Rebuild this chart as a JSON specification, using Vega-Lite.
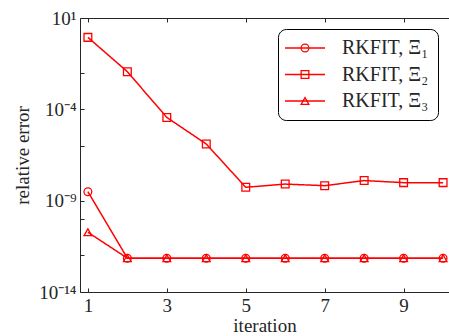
{
  "$schema": "https://vega.github.io/schema/vega-lite/v6.json",
  "autosize": "none",
  "padding": {"left": 80, "top": 18, "right": 0, "bottom": 44},
  "width": 369,
  "height": 274,
  "background": "white",
  "config": {
    "view": {"stroke": null},
    "font": "Liberation Serif",
    "axis": {
      "grid": false,
      "domainColor": "#262626",
      "tickColor": "#262626",
      "labelColor": "#262626",
      "titleColor": "#262626",
      "labelFont": "Liberation Serif",
      "titleFont": "Liberation Serif",
      "labelFontSize": 19,
      "titleFontSize": 19,
      "titleFontWeight": "normal",
      "tickSize": -4,
      "domainWidth": 1
    }
  },
  "data": {
    "values": [
      {"iteration": 1, "series": "Xi1", "label": "RKFIT, Ξ₁", "err": 3.1e-9},
      {"iteration": 2, "series": "Xi1", "label": "RKFIT, Ξ₁", "err": 7.1e-13},
      {"iteration": 3, "series": "Xi1", "label": "RKFIT, Ξ₁", "err": 7.1e-13},
      {"iteration": 4, "series": "Xi1", "label": "RKFIT, Ξ₁", "err": 7.1e-13},
      {"iteration": 5, "series": "Xi1", "label": "RKFIT, Ξ₁", "err": 7.1e-13},
      {"iteration": 6, "series": "Xi1", "label": "RKFIT, Ξ₁", "err": 7.1e-13},
      {"iteration": 7, "series": "Xi1", "label": "RKFIT, Ξ₁", "err": 7.1e-13},
      {"iteration": 8, "series": "Xi1", "label": "RKFIT, Ξ₁", "err": 7.1e-13},
      {"iteration": 9, "series": "Xi1", "label": "RKFIT, Ξ₁", "err": 7.1e-13},
      {"iteration": 10, "series": "Xi1", "label": "RKFIT, Ξ₁", "err": 7.1e-13},
      {"iteration": 1, "series": "Xi2", "label": "RKFIT, Ξ₂", "err": 0.87},
      {"iteration": 2, "series": "Xi2", "label": "RKFIT, Ξ₂", "err": 0.0115},
      {"iteration": 3, "series": "Xi2", "label": "RKFIT, Ξ₂", "err": 3.6e-5},
      {"iteration": 4, "series": "Xi2", "label": "RKFIT, Ξ₂", "err": 1.26e-6},
      {"iteration": 5, "series": "Xi2", "label": "RKFIT, Ξ₂", "err": 5.4e-9},
      {"iteration": 6, "series": "Xi2", "label": "RKFIT, Ξ₂", "err": 8.1e-9},
      {"iteration": 7, "series": "Xi2", "label": "RKFIT, Ξ₂", "err": 6.6e-9},
      {"iteration": 8, "series": "Xi2", "label": "RKFIT, Ξ₂", "err": 1.26e-8},
      {"iteration": 9, "series": "Xi2", "label": "RKFIT, Ξ₂", "err": 9.7e-9},
      {"iteration": 10, "series": "Xi2", "label": "RKFIT, Ξ₂", "err": 9.7e-9},
      {"iteration": 1, "series": "Xi3", "label": "RKFIT, Ξ₃", "err": 1.86e-11},
      {"iteration": 2, "series": "Xi3", "label": "RKFIT, Ξ₃", "err": 7.1e-13},
      {"iteration": 3, "series": "Xi3", "label": "RKFIT, Ξ₃", "err": 7.1e-13},
      {"iteration": 4, "series": "Xi3", "label": "RKFIT, Ξ₃", "err": 7.1e-13},
      {"iteration": 5, "series": "Xi3", "label": "RKFIT, Ξ₃", "err": 7.1e-13},
      {"iteration": 6, "series": "Xi3", "label": "RKFIT, Ξ₃", "err": 7.1e-13},
      {"iteration": 7, "series": "Xi3", "label": "RKFIT, Ξ₃", "err": 7.1e-13},
      {"iteration": 8, "series": "Xi3", "label": "RKFIT, Ξ₃", "err": 7.1e-13},
      {"iteration": 9, "series": "Xi3", "label": "RKFIT, Ξ₃", "err": 7.1e-13},
      {"iteration": 10, "series": "Xi3", "label": "RKFIT, Ξ₃", "err": 7.1e-13}
    ]
  },
  "encoding": {
    "x": {
      "field": "iteration",
      "type": "quantitative",
      "scale": {"domain": [0.8, 10.15], "nice": false, "zero": false}
    },
    "y": {
      "field": "err",
      "type": "quantitative",
      "scale": {"type": "log", "domain": [1e-14, 10], "nice": false},
      "axis": {
        "title": "relative error",
        "titlePadding": 6,
        "values": [10, 1e-2, 1e-4, 1e-6, 1e-9, 1e-10, 1e-12, 1e-14],
        "labelExpr": "round(log(datum.value)/LN10) == 1 ? '10¹' : round(log(datum.value)/LN10) == -4 ? '10⁻⁴' : round(log(datum.value)/LN10) == -9 ? '10⁻⁹' : round(log(datum.value)/LN10) == -14 ? '10⁻¹⁴' : ''",
        "labelPadding": 8,
        "labelOverlap": false
      }
    }
  },
  "layer": [
    {
      "mark": {"type": "line", "color": "#ff0000", "strokeWidth": 1.5},
      "encoding": {
        "x": {
          "field": "iteration",
          "type": "quantitative",
          "axis": {"values": [1, 3, 5, 7, 9], "title": "iteration", "titlePadding": 1, "labelPadding": 8}
        },
        "strokeDash": {
          "field": "label",
          "type": "nominal",
          "scale": {"range": [[1, 0], [1, 0], [1, 0]]},
          "legend": {
            "title": null,
            "orient": "none",
            "legendX": 198,
            "legendY": 11,
            "strokeColor": "#000000",
            "fillColor": "white",
            "cornerRadius": 8,
            "padding": 9,
            "symbolType": "M-2.5,0H2.5",
            "symbolSize": 256,
            "symbolOffset": 8,
            "symbolStrokeColor": "#ff0000",
            "symbolStrokeWidth": 1.5,
            "labelFont": "Liberation Serif",
            "labelFontSize": 20,
            "labelColor": "#262626",
            "labelOffset": 27,
            "rowPadding": 6.5,
            "zindex": 1
          }
        }
      }
    },
    {
      "mark": {"type": "point", "filled": false, "color": "#ff0000", "strokeWidth": 1.3, "size": 60, "opacity": 1},
      "encoding": {
        "x": {
          "field": "iteration",
          "type": "quantitative",
          "axis": {"orient": "top", "values": [1, 3, 5, 7, 9], "labels": false, "title": null}
        },
        "shape": {
          "field": "series",
          "type": "nominal",
          "scale": {"domain": ["Xi1", "Xi2", "Xi3"], "range": ["circle", "square", "triangle-up"]},
          "legend": {
            "title": null,
            "orient": "none",
            "legendX": 198,
            "legendY": 11,
            "padding": 9,
            "symbolSize": 60,
            "symbolOffset": 8,
            "symbolStrokeColor": "#ff0000",
            "symbolFillColor": "transparent",
            "symbolStrokeWidth": 1.3,
            "labelExpr": "''",
            "labelFontSize": 20,
            "labelOffset": 27,
            "rowPadding": 6.5,
            "zindex": 2
          }
        }
      }
    }
  ],
  "resolve": {"axis": {"x": "independent"}}
}
